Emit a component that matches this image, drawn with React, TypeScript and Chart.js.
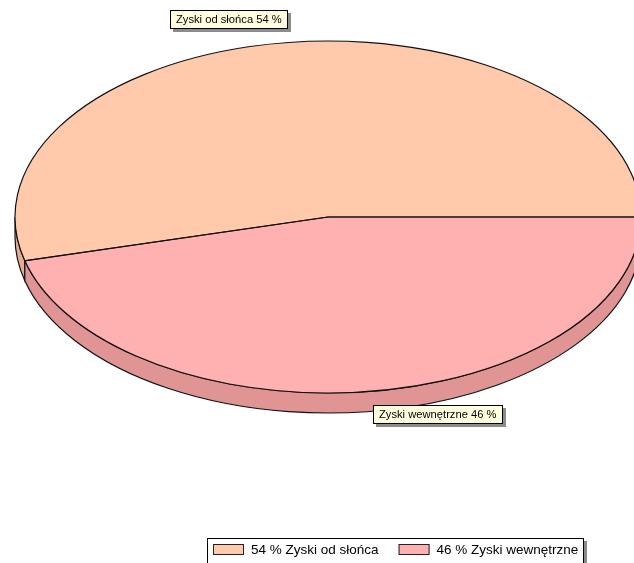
import { useEffect, useRef } from "react";
import { Chart, registerables } from "chart.js";

Chart.register(...registerables);

// Udział zysków ciepła
const categories = ["Zyski od słońca", "Zyski wewnętrzne"];
const shares = [54, 46];
const topColors = ["#FFC9AB", "#FFB0B0"];
const sideColors = ["#E5AC8F", "#E09494"];

// Geometria rzutu 3D (elipsa + grubość)
const CX = 328;
const CY = 217;
const RX = 313;
const RY = 176;
const DEPTH = 20;

const LABEL_FONT = "11.2px 'Liberation Sans', Arial, sans-serif";
const LEGEND_FONT = "13.5px 'Liberation Sans', Arial, sans-serif";

const total = shares.reduce((a, b) => a + b, 0);

function arcAngles(arc: any) {
  const p = arc.getProps(["startAngle", "endAngle"], true);
  return { s: p.startAngle as number, e: p.endAngle as number };
}

function drawBox(ctx: CanvasRenderingContext2D, x: number, y: number, w: number, h: number, text: string) {
  ctx.fillStyle = "#8c8c8c";
  ctx.fillRect(x + 3, y + 3, w, h);
  ctx.fillStyle = "#FFFFE0";
  ctx.fillRect(x, y, w, h);
  ctx.strokeStyle = "#000";
  ctx.lineWidth = 1;
  ctx.strokeRect(x + 0.5, y + 0.5, w - 1, h - 1);
  ctx.fillStyle = "#000";
  ctx.textBaseline = "middle";
  ctx.textAlign = "left";
  ctx.fillText(text, x + 6, y + h / 2 + 0.5);
}

const pie3d = {
  id: "pie3d",
  beforeDatasetsDraw(chart: any) {
    const ctx: CanvasRenderingContext2D = chart.ctx;
    const arcs = chart.getDatasetMeta(0).data;
    // boczne ścianki widoczne z przodu
    ctx.save();
    ctx.lineWidth = 1.2;
    ctx.strokeStyle = "#111";
    arcs.forEach((arc: any, i: number) => {
      const { s, e } = arcAngles(arc);
      for (let k = -2; k <= 2; k++) {
        const a = Math.max(s, 2 * Math.PI * k);
        const b = Math.min(e, 2 * Math.PI * k + Math.PI);
        if (b - a > 1e-6) {
          ctx.beginPath();
          ctx.ellipse(CX, CY, RX, RY, 0, a, b, false);
          ctx.ellipse(CX, CY + DEPTH, RX, RY, 0, b, a, true);
          ctx.closePath();
          ctx.fillStyle = sideColors[i];
          ctx.fill();
          ctx.stroke();
        }
      }
    });
    ctx.restore();
    // spłaszczenie koła do elipsy
    const a0 = arcs[0];
    ctx.save();
    ctx.translate(CX, CY);
    ctx.scale(RX / a0.outerRadius, RY / a0.outerRadius);
    ctx.translate(-a0.x, -a0.y);
  },
  afterDatasetsDraw(chart: any) {
    const ctx: CanvasRenderingContext2D = chart.ctx;
    ctx.restore();
    const arcs = chart.getDatasetMeta(0).data;
    ctx.save();
    ctx.lineWidth = 1.2;
    ctx.strokeStyle = "#111";
    arcs.forEach((arc: any) => {
      const { s, e } = arcAngles(arc);
      ctx.beginPath();
      ctx.moveTo(CX, CY);
      ctx.ellipse(CX, CY, RX, RY, 0, s, e, false);
      ctx.closePath();
      ctx.stroke();
    });
    ctx.restore();
  },
  afterDraw(chart: any) {
    const ctx: CanvasRenderingContext2D = chart.ctx;
    const arcs = chart.getDatasetMeta(0).data;
    ctx.save();
    // etykiety wycinków
    ctx.font = LABEL_FONT;
    arcs.forEach((arc: any, i: number) => {
      const { s, e } = arcAngles(arc);
      const m = (s + e) / 2;
      const c = Math.cos(m);
      const sn = Math.sin(m);
      const ax = CX + 2.5 + (RX + 26) * c;
      const ay = CY + (RY + 13) * sn;
      const text = `${categories[i]} ${shares[i]} %`;
      const w = Math.round(ctx.measureText(text).width) + 12;
      const h = 19;
      const x = Math.round(c < 0 ? ax - w : ax);
      const y = Math.round(sn < 0 ? ay - h : ay);
      drawBox(ctx, x, y, w, h, text);
    });
    // legenda
    ctx.font = LEGEND_FONT;
    const items = categories.map((cat, i) => `${shares[i]} % ${cat}`);
    const widths = items.map((t) => ctx.measureText(t).width);
    const lx = 207;
    const ly = 538;
    const sw = 31;
    const pad = 6;
    const gap = 7;
    const between = 20;
    const lw = Math.round(pad + widths.reduce((acc, w) => acc + sw + gap + w, 0) + between * (items.length - 1) + pad);
    const lh = 30;
    ctx.fillStyle = "#8c8c8c";
    ctx.fillRect(lx + 3, ly + 3, lw, lh);
    ctx.fillStyle = "#fff";
    ctx.fillRect(lx, ly, lw, lh);
    ctx.strokeStyle = "#000";
    ctx.lineWidth = 1;
    ctx.strokeRect(lx + 0.5, ly + 0.5, lw - 1, lh - 1);
    let x = lx + pad;
    items.forEach((t, i) => {
      ctx.fillStyle = topColors[i];
      ctx.fillRect(x, 544, sw, 11);
      ctx.strokeStyle = "#222";
      ctx.strokeRect(x + 0.5, 544.5, sw - 1, 10);
      ctx.fillStyle = "#000";
      ctx.textAlign = "left";
      ctx.textBaseline = "middle";
      ctx.fillText(t, x + sw + gap, 550);
      x += sw + gap + widths[i] + between;
    });
    ctx.restore();
  },
};

export default function App() {
  const ref = useRef<HTMLCanvasElement | null>(null);

  useEffect(() => {
    if (!ref.current) return;
    const rotation = 90 + (360 * (total - shares[0])) / total;
    const chart = new Chart(ref.current, {
      type: "pie",
      data: {
        labels: categories,
        datasets: [
          {
            data: shares,
            backgroundColor: topColors,
            borderWidth: 0,
            clip: false as any,
          },
        ],
      },
      options: {
        responsive: false,
        animation: false,
        events: [],
        rotation,
        layout: { padding: 0 },
        plugins: {
          legend: { display: false },
          tooltip: { enabled: false },
          title: { display: false },
        },
      },
      plugins: [pie3d as any],
    });
    return () => chart.destroy();
  }, []);

  return (
    <div style={{ position: "absolute", left: 0, top: 0, width: 634, height: 563, background: "#fff" }}>
      <canvas ref={ref} width={634} height={563} style={{ display: "block" }} />
    </div>
  );
}
